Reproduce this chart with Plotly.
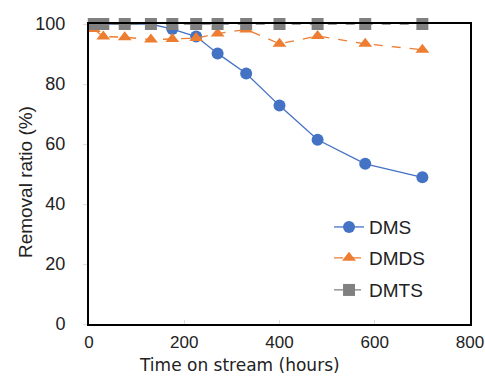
import plotly.graph_objects as go

hours = [10, 30, 75, 130, 175, 225, 270, 330, 400, 480, 580, 700]
dms = [100, 100, 100, 100, 98.3, 95.8, 90.2, 83.5, 72.8, 61.4, 53.4, 48.9]
dmds = [98.3, 95.8, 95.6, 94.8, 95.0, 95.3, 96.8, 98.2, 93.4, 96.0, 93.4, 91.4]
dmts = [100, 100, 100, 100, 100, 100, 100, 100, 100, 100, 100, 100]

x_ticks = [0, 200, 400, 600, 800]
y_ticks = [0, 20, 40, 60, 80, 100]

fig = go.Figure()
fig.add_trace(go.Scatter(x=hours, y=dms, name="DMS", mode="lines+markers",
                         line=dict(color="#4472C4", width=1.3),
                         marker=dict(symbol="circle", size=12, color="#4472C4"),
                         cliponaxis=False, legend="legend"))
fig.add_trace(go.Scatter(x=hours, y=dmds, name="DMDS", mode="lines+markers",
                         line=dict(color="#ED7D31", width=1.3, dash="dash"),
                         marker=dict(symbol="triangle-up", size=12, color="#ED7D31"),
                         cliponaxis=False, legend="legend2"))
fig.add_trace(go.Scatter(x=hours, y=dmts, name="DMTS", mode="lines+markers",
                         line=dict(color="#808080", width=1.3, dash="dash"),
                         marker=dict(symbol="square", size=12, color="#808080"),
                         cliponaxis=False, legend="legend3"))

legfont = dict(family="Liberation Sans, Arial, sans-serif", size=19, color="#222")
common = dict(xanchor="left", yanchor="middle", bgcolor="rgba(0,0,0,0)", font=legfont,
              itemwidth=30)
fig.update_layout(
    width=485, height=377,
    margin=dict(l=89, r=15, t=24, b=53),
    paper_bgcolor="white", plot_bgcolor="white",
    font=dict(family="Liberation Sans, Arial, sans-serif", size=18, color="#222"),
    legend=dict(x=0.63, y=0.323, **common),
    legend2=dict(x=0.63, y=0.22, **common),
    legend3=dict(x=0.63, y=0.113, **common),
    xaxis=dict(range=[0, 800], tickvals=x_ticks, showgrid=False, zeroline=False,
               showline=True, linecolor="black", linewidth=2, mirror=True,
               ticks="inside", ticklen=4, tickcolor="#ddd", automargin=False,
               ticklabelstandoff=2, ticklabeloverflow="allow",
               tickfont=dict(size=17)),
    yaxis=dict(range=[0, 100], tickvals=y_ticks, showgrid=False, zeroline=False,
               showline=True, linecolor="black", linewidth=2, mirror=True,
               ticks="outside", ticklen=4, tickcolor="#ddd", automargin=False,
               ticklabelstandoff=14, ticklabeloverflow="allow",
               tickfont=dict(size=18)),
    annotations=[
        dict(text="Time on stream (hours)", xref="paper", yref="paper",
             x=(239 - 89) / 381, y=-0.138, xanchor="center", yanchor="middle",
             showarrow=False, borderpad=0,
             font=dict(family="DejaVu Sans, sans-serif", size=17, color="#222")),
        dict(text="Removal ratio (%)", xref="paper", yref="paper", textangle=-90,
             x=-0.168, y=0.473, xanchor="center", yanchor="middle", showarrow=False,
             font=dict(family="Liberation Sans, Arial, sans-serif", size=19, color="#222")),
    ],
    showlegend=True,
)

fig.write_html("out.html", config={"displayModeBar": False},
               post_script="document.body.style.margin='0';")
